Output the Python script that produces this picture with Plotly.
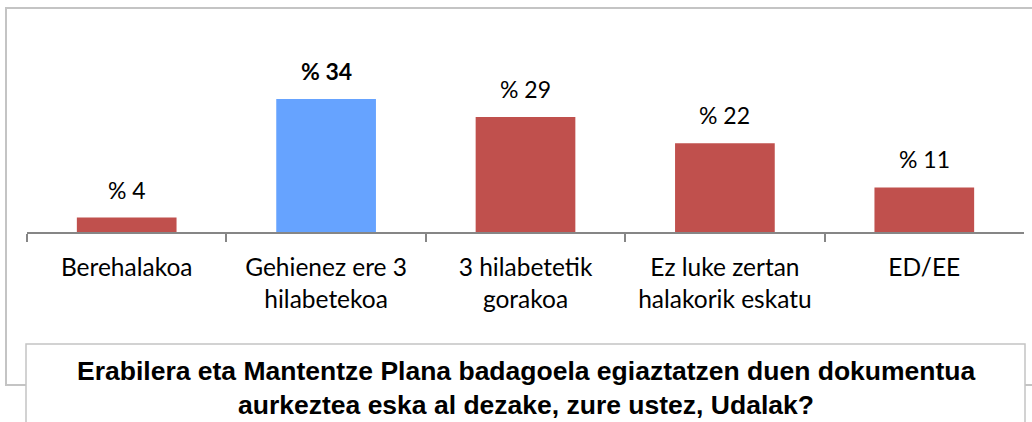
import plotly.graph_objects as go

categories = ["Berehalakoa", "Gehienez ere 3<br>hilabetekoa", "3 hilabetetik<br>gorakoa",
              "Ez luke zertan<br>halakorik eskatu", "ED/EE"]
values = [3.7, 34.0, 29.4, 22.7, 11.4]
value_labels = ["% 4", "<b>% 34</b>", "% 29", "% 22", "% 11"]
bar_colors = ["#C0504D", "#66A3FF", "#C0504D", "#C0504D", "#C0504D"]
title_lines = ["Erabilera eta Mantentze Plana badagoela egiaztatzen duen dokumentua",
               "aurkeztea eska al dezake, zure ustez, Udalak?"]

W, H = 1032, 422
def px(x):
    return x / W
def py(y):
    return 1 - y / H

BODY_FONT = "Lato, Open Sans, sans-serif"
TITLE_FONT = "Liberation Sans, Arial, sans-serif"

fig = go.Figure()
fig.add_trace(go.Bar(x=categories, y=values, marker=dict(color=bar_colors, line=dict(width=0)),
                     width=0.5, hoverinfo="skip"))

annotations = []
for c, v, t in zip(categories, values, value_labels):
    annotations.append(dict(x=c, y=v, text=t, showarrow=False, yanchor="bottom", yshift=12,
                            font=dict(family=BODY_FONT, size=23, color="#000")))
annotations.append(dict(xref="paper", yref="paper", x=px(526), y=py(371), text="<b>" + title_lines[0] + "</b>",
                        showarrow=False, xanchor="center", yanchor="middle",
                        font=dict(family=TITLE_FONT, size=26.5, color="#000")))
annotations.append(dict(xref="paper", yref="paper", x=px(526), y=py(405), text="<b>" + title_lines[1] + "</b>",
                        showarrow=False, xanchor="center", yanchor="middle",
                        font=dict(family=TITLE_FONT, size=26.5, color="#000")))

shapes = [
    dict(type="rect", xref="paper", yref="paper", x0=px(6), x1=px(1034), y0=py(8), y1=py(385),
         line=dict(color="#C4C4C4", width=2), fillcolor="rgba(0,0,0,0)", layer="below"),
    dict(type="rect", xref="paper", yref="paper", x0=px(26), x1=px(1025), y0=py(344), y1=py(440),
         line=dict(color="#C4C4C4", width=1.5), fillcolor="white", layer="above"),
]

plot_top, plot_bottom = 30, 232
ymax = 34.0 * (plot_bottom - plot_top) / (plot_bottom - 99)

fig.update_layout(
    width=W, height=H,
    margin=dict(l=0, r=0, t=0, b=0),
    paper_bgcolor="white", plot_bgcolor="white",
    showlegend=False,
    annotations=annotations,
    shapes=shapes,
    xaxis=dict(domain=[px(27), px(1024)], showgrid=False, zeroline=False,
               showline=True, linecolor="#868686", linewidth=1.5,
               ticks="outside", tickson="boundaries", ticklen=8, tickcolor="#868686", tickwidth=1.5,
               tickfont=dict(family=BODY_FONT, size=24.5, color="#000"),
               ticklabelstandoff=13, automargin=False, fixedrange=True),
    yaxis=dict(domain=[py(plot_bottom), py(plot_top)], range=[0, ymax], visible=False,
               showgrid=False, zeroline=False, automargin=False, fixedrange=True),
    bargap=0.5,
)

fig.write_html("out.html", config={"displayModeBar": False},
               post_script="document.body.style.margin='0';document.body.style.overflow='hidden';")
